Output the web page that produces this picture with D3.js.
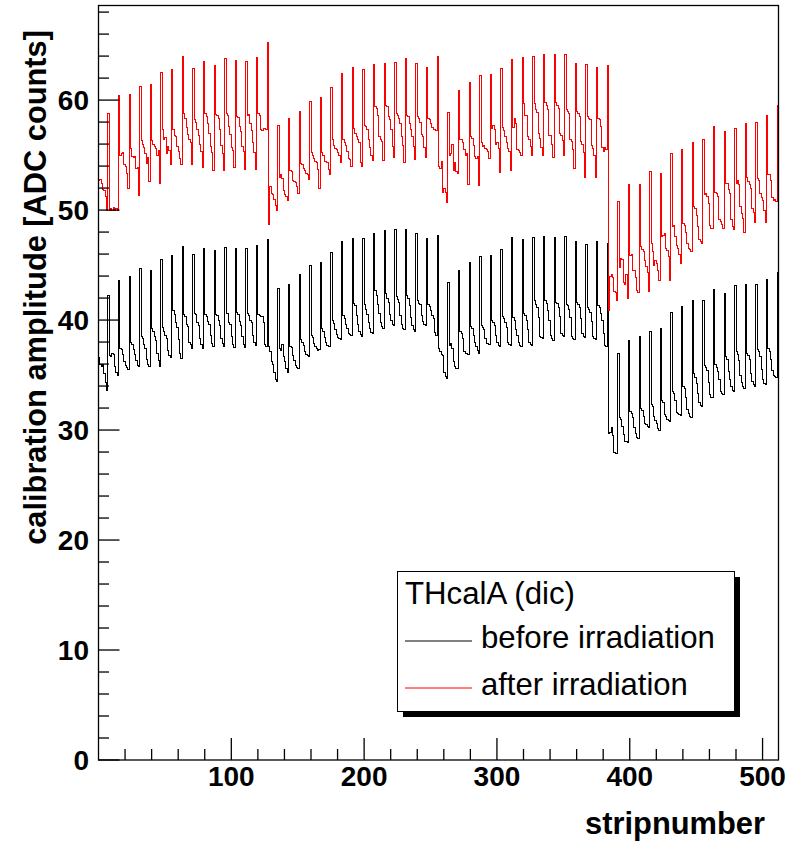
<!DOCTYPE html>
<html><head><meta charset="utf-8">
<script src="https://cdn.jsdelivr.net/npm/d3@7"></script>
<style>
html,body{margin:0;padding:0;background:#fff;}
svg{display:block;font-family:"Liberation Sans",Arial,Helvetica,sans-serif;}
</style></head>
<body>
<svg id="chart" width="799" height="845"></svg>
<script>
// ---- data (strip-by-strip amplitudes, 4 chips x 128 strips) ----
const beforeIrradiation = [
// chip 1
36.6,36.0,35.8,36.0,35.1,34.3,33.6,42.2, 36.8,36.7,37.0,36.9,35.8,35.2,35.0,43.6,
37.4,37.3,36.9,36.2,35.9,35.7,35.5,44.0, 38.0,37.8,37.3,36.9,36.3,35.9,35.8,44.7,
38.5,38.3,37.8,37.4,36.4,36.0,35.8,44.5, 39.2,39.0,38.5,38.1,37.0,36.3,35.8,45.5,
39.3,39.0,38.6,38.3,37.2,36.8,36.6,45.9, 40.9,40.5,39.8,39.3,38.2,37.0,36.5,46.7,
40.5,40.3,39.6,39.4,38.0,37.8,37.4,46.0, 40.6,40.5,39.8,39.5,38.3,37.8,37.4,46.5,
40.5,40.3,39.9,39.6,38.6,37.9,37.6,46.3, 40.5,40.4,40.0,39.5,38.3,37.9,37.6,46.6,
40.6,40.6,39.8,39.6,38.5,37.8,37.5,46.5, 40.7,40.5,39.9,39.5,38.5,37.8,37.5,46.5,
40.6,40.4,40.0,39.8,38.6,38.0,37.7,46.8, 40.5,40.4,40.3,40.3,39.8,37.8,37.6,47.3,
// chip 2
37.6,37.1,36.2,36.0,35.2,34.6,34.4,42.9, 37.4,37.2,37.8,36.7,36.2,35.6,35.2,43.2,
37.6,37.5,36.8,36.3,35.9,35.7,35.6,44.1, 38.2,38.0,37.7,37.1,36.9,36.8,36.7,45.0,
38.6,38.4,37.9,37.6,37.4,37.2,37.3,45.2, 39.2,39.0,38.4,38.0,37.7,37.6,37.6,46.1,
40.0,39.7,39.1,38.7,38.4,38.3,38.2,47.1, 40.4,40.1,39.6,39.2,38.8,38.7,38.6,47.4,
41.5,41.3,40.4,39.6,39.0,38.7,38.5,47.4, 41.4,41.0,40.5,39.8,39.2,38.9,38.8,47.9,
42.7,42.2,41.4,40.6,39.8,39.4,39.2,48.1, 42.4,42.0,41.6,40.5,40.0,39.6,39.5,48.2,
42.1,41.9,41.6,40.4,39.6,39.2,39.1,48.2, 42.2,42.0,41.3,40.2,39.5,39.1,39.0,47.9,
41.8,41.5,41.4,40.4,39.9,39.6,39.5,47.4, 41.4,41.2,40.9,40.4,40.1,38.9,38.6,47.7,
// chip 3
37.4,37.1,36.9,36.8,35.2,34.9,34.7,43.4, 37.7,37.9,37.4,36.2,35.8,35.6,35.6,44.5,
39.0,38.8,38.3,37.1,37.0,37.0,36.9,45.2, 39.4,39.2,38.6,38.0,37.6,37.2,37.0,45.8,
39.5,39.3,39.1,38.3,37.9,37.9,37.8,45.9, 40.0,39.8,39.5,38.6,38.0,37.7,37.6,46.4,
40.3,40.1,39.8,39.3,38.0,37.8,37.7,47.5, 40.2,40.0,39.1,38.6,38.0,37.7,37.6,47.3,
40.6,40.4,40.0,39.1,38.0,37.8,37.7,47.5, 41.8,41.4,41.1,40.2,38.5,38.4,38.3,47.6,
41.8,41.5,40.9,40.0,38.6,38.3,38.1,47.5, 41.6,41.5,41.1,40.3,38.8,38.6,38.5,47.6,
41.4,41.3,41.0,40.2,38.5,38.3,38.2,47.1, 41.6,41.4,41.1,40.1,38.8,38.5,38.4,46.9,
41.1,41.0,40.7,39.9,38.5,38.3,38.2,47.1, 41.3,41.1,40.6,40.0,38.8,37.7,37.6,47.0,
// chip 4
29.7,29.8,30.2,29.5,28.0,27.9,27.9,37.0, 31.1,31.0,30.3,29.6,29.0,29.0,28.9,38.1,
31.7,31.5,31.1,30.2,29.7,29.3,29.2,38.5, 32.0,31.8,31.2,30.6,30.5,30.3,30.2,39.0,
32.3,32.1,31.2,30.9,30.6,30.1,30.0,39.2, 32.7,32.5,31.4,31.2,31.0,30.9,30.8,40.7,
33.5,33.3,32.7,31.6,31.5,31.4,31.3,41.2, 34.0,33.8,33.0,31.9,31.5,31.2,31.1,41.8,
35.1,34.8,34.2,33.3,32.5,32.2,32.1,41.8, 35.9,35.7,35.4,34.3,33.2,33.0,33.0,42.8,
36.0,35.7,35.3,34.6,33.5,33.3,33.2,42.4, 36.7,36.4,35.3,34.6,34.0,33.6,33.5,43.1,
37.1,36.9,36.3,35.0,34.3,34.0,33.8,43.2, 37.0,36.8,36.4,35.1,34.4,34.1,34.0,43.2,
37.3,37.1,36.7,35.5,34.6,34.2,34.1,43.7, 37.4,37.1,36.4,35.4,35.0,34.9,34.8,44.3
];

const afterIrradiation = [
// chip 1
52.7,52.8,52.4,51.9,51.8,51.2,50.0,58.8, 50.0,50.1,50.0,50.2,50.0,50.1,50.0,60.4,
55.0,55.1,55.2,54.1,54.0,53.3,52.0,60.5, 55.6,54.9,54.8,54.9,53.8,53.9,51.3,61.2,
56.3,56.0,55.7,55.1,54.2,54.8,52.6,61.4, 56.3,56.0,55.8,55.6,55.0,55.4,52.4,62.5,
57.3,56.4,56.6,55.1,55.8,55.4,54.1,62.8, 57.3,56.8,56.7,55.8,55.3,54.7,54.1,64.0,
58.8,58.3,57.5,56.9,56.4,56.1,54.1,62.9, 58.2,58.0,57.3,56.8,56.0,55.3,53.9,63.5,
58.8,58.5,57.9,57.0,55.8,55.2,53.6,63.1, 58.7,58.6,58.3,57.3,55.9,55.1,53.6,63.8,
58.8,58.6,57.6,56.9,55.7,55.4,53.9,63.6, 58.5,58.4,57.6,57.1,55.8,55.3,53.7,63.5,
58.6,58.7,57.9,57.2,56.1,55.2,53.7,63.9, 58.8,58.6,57.3,57.2,57.4,57.4,57.3,65.2,
// chip 2
48.7,52.1,51.5,51.4,51.0,50.4,50.0,57.7, 53.0,53.2,52.9,51.8,51.4,51.2,50.9,58.3,
53.6,53.5,52.7,52.6,52.5,52.1,51.5,59.0, 54.2,54.1,53.8,53.6,53.3,53.2,52.8,59.9,
55.2,55.0,54.7,54.4,54.3,53.7,52.0,60.2, 55.2,55.0,54.4,54.4,54.3,53.7,53.2,61.1,
56.4,55.9,55.6,55.5,55.2,55.0,54.3,62.4, 56.4,56.1,55.9,55.3,54.7,54.6,54.0,63.0,
57.4,57.0,56.7,56.4,56.1,54.3,54.0,62.8, 57.7,57.6,57.3,56.4,55.7,55.0,54.5,63.2,
59.4,59.2,58.6,56.7,56.4,56.2,54.5,63.3, 59.5,59.4,58.5,58.2,57.3,55.8,54.8,63.4,
58.8,58.6,58.3,57.9,56.7,55.9,54.3,63.8, 58.6,58.5,57.9,57.3,56.7,55.8,54.6,63.3,
58.5,58.3,58.0,56.9,56.7,55.7,54.8,63.0, 58.3,58.2,57.9,57.5,57.3,57.3,57.2,64.0,
// chip 3
54.0,53.8,54.4,51.6,52.0,51.6,50.7,58.9, 55.0,55.1,56.0,53.6,54.3,53.5,53.3,60.9,
56.4,56.4,56.1,55.5,55.0,55.1,52.3,61.6, 56.7,56.5,55.9,54.9,54.7,54.9,52.2,62.2,
56.1,55.8,55.9,55.6,55.5,55.3,54.7,62.3, 57.4,57.7,57.3,56.0,56.1,55.6,53.4,62.9,
57.5,57.2,56.7,56.1,55.6,55.3,53.6,63.7, 57.5,58.3,57.9,55.5,55.4,55.2,55.0,63.9,
59.7,58.6,58.6,56.7,56.4,55.8,55.0,64.0, 59.7,59.1,58.9,57.0,56.5,55.7,55.0,64.1,
59.8,59.5,59.1,56.8,56.8,56.0,54.8,64.1, 59.8,59.5,59.2,57.0,56.8,56.3,55.0,64.1,
59.1,59.0,58.8,56.4,56.2,55.5,53.8,63.3, 59.0,58.8,58.5,56.2,56.0,55.2,53.0,63.2,
58.5,58.3,58.2,55.9,55.6,55.0,53.0,63.0, 58.3,58.2,57.6,55.7,55.3,55.7,55.5,63.1,
// chip 4
40.9,44.0,44.1,43.9,42.6,42.5,41.8,50.8, 44.8,45.6,45.5,43.4,43.2,44.1,42.0,52.3,
45.9,46.0,44.5,44.5,43.9,42.7,42.5,52.3, 46.7,46.4,46.2,45.4,44.9,44.3,42.6,53.5,
47.0,46.2,45.0,45.4,45.1,44.5,43.6,53.3, 47.6,47.7,47.9,46.5,46.3,45.8,43.6,55.1,
48.5,48.6,47.6,46.8,46.5,46.0,45.1,55.5, 48.8,48.6,48.0,47.0,46.5,46.4,46.2,56.1,
50.3,50.1,49.5,48.5,47.3,47.1,47.0,56.4, 51.4,51.5,51.2,50.6,48.6,48.3,48.3,57.6,
51.6,51.5,51.2,49.1,49.0,48.7,48.3,57.1, 52.4,52.4,51.9,51.5,49.1,48.5,48.2,57.4,
52.4,52.7,52.3,50.3,49.7,49.2,48.0,57.9, 53.0,52.6,52.3,52.0,50.1,49.8,48.9,58.0,
52.9,52.7,51.5,51.1,50.9,50.0,48.9,58.6, 53.2,53.2,52.7,51.1,50.9,51.0,50.8,59.5
];

const seriesNames = ["before irradiation", "after irradiation"];
const seriesColors = ["#000000", "#ff0000"];
const legendTitle = "THcalA (dic)";
const xTickValues = [100, 200, 300, 400, 500];
const yTickValues = [0, 10, 20, 30, 40, 50, 60];
const xRange = [0, 512];
const yRange = [0, 68.6];
const xTitle = "stripnumber";
const yTitle = "calibration amplitude [ADC counts]";

// ---- layout ----
const svg = d3.select("#chart");
const L = 98.5, R = 778.5, T = 5.5, B = 760;
const x = d3.scaleLinear().domain(xRange).range([L, R]);
const y = d3.scaleLinear().domain(yRange).range([B, T]);
const FONT = '"Liberation Sans",Arial,Helvetica,sans-serif';

function stepPath(vals) {
  let p = "";
  vals.forEach((v, i) => {
    const x0 = x(i), x1 = x(i + 1), yy = y(v);
    if (i === 0) p += `M${x0},${yy}`; else p += `V${yy}`;
    p += `H${x1}`;
  });
  return p;
}

// histograms
[beforeIrradiation, afterIrradiation].forEach((vals, k) => {
  svg.append("path").attr("d", stepPath(vals))
    .attr("fill", "none").attr("stroke", seriesColors[k])
    .attr("stroke-width", 1).attr("shape-rendering", "crispEdges");
});

// frame
svg.append("rect").attr("x", L).attr("y", T).attr("width", R - L).attr("height", B - T)
  .attr("fill", "none").attr("stroke", "#000").attr("stroke-width", 1.3);

// x axis ticks
const xMinor = d3.range(20, 512, 20).filter(v => v % 100 !== 0);
const gx = svg.append("g");
xTickValues.forEach(v => gx.append("line").attr("x1", x(v)).attr("x2", x(v))
  .attr("y1", B).attr("y2", B - 22).attr("stroke", "#000").attr("stroke-width", 1.3));
xMinor.forEach(v => gx.append("line").attr("x1", x(v)).attr("x2", x(v))
  .attr("y1", B).attr("y2", B - 11).attr("stroke", "#000").attr("stroke-width", 1.3));
xTickValues.forEach(v => gx.append("text").attr("x", x(v)).attr("y", 786)
  .attr("text-anchor", "middle").attr("font-family", FONT).attr("font-weight", "bold")
  .attr("font-size", 28).text(v));

// y axis ticks
const yMinor = d3.range(2, 69, 2).filter(v => v % 10 !== 0);
const gy = svg.append("g");
yTickValues.forEach(v => gy.append("line").attr("x1", L).attr("x2", L + 21)
  .attr("y1", y(v)).attr("y2", y(v)).attr("stroke", "#000").attr("stroke-width", 1.3));
yMinor.forEach(v => gy.append("line").attr("x1", L).attr("x2", L + 10.5)
  .attr("y1", y(v)).attr("y2", y(v)).attr("stroke", "#000").attr("stroke-width", 1.3));
yTickValues.forEach(v => gy.append("text").attr("x", 89).attr("y", y(v) + 10)
  .attr("text-anchor", "end").attr("font-family", FONT).attr("font-weight", "bold")
  .attr("font-size", 28).text(v));

function fitText(sel, target) {
  const w = sel.node().getComputedTextLength();
  const fs = parseFloat(sel.attr("font-size"));
  if (w > 0) sel.attr("font-size", fs * target / w);
}

// axis titles
const xt = svg.append("text").attr("x", 765).attr("y", 834).attr("text-anchor", "end")
  .attr("font-family", FONT).attr("font-weight", "bold").attr("font-size", 30).text(xTitle);
fitText(xt, 180);
const yt = svg.append("text").attr("transform", "translate(46,30) rotate(-90)")
  .attr("text-anchor", "end").attr("font-family", FONT).attr("font-weight", "bold")
  .attr("font-size", 30).text(yTitle);
fitText(yt, 515);

// legend
const lg = svg.append("g");
lg.append("rect").attr("x", 403).attr("y", 577).attr("width", 337).attr("height", 140).attr("fill", "#000");
lg.append("rect").attr("x", 397.5).attr("y", 571.5).attr("width", 337).attr("height", 140)
  .attr("fill", "#fff").attr("stroke", "#000").attr("stroke-width", 1);
const lt = lg.append("text").attr("x", 405).attr("y", 604).attr("font-family", FONT)
  .attr("font-size", 30).text(legendTitle);
fitText(lt, 170);
const rowsY = [648, 695], lineY = [641, 688], widths = [234, 207];
seriesNames.forEach((name, k) => {
  lg.append("line").attr("x1", 405).attr("x2", 472).attr("y1", lineY[k]).attr("y2", lineY[k])
    .attr("stroke", seriesColors[k]).attr("stroke-width", 1);
  const t = lg.append("text").attr("x", 481).attr("y", rowsY[k]).attr("font-family", FONT)
    .attr("font-size", 30).text(name);
  fitText(t, widths[k]);
});
</script>
</body></html>
